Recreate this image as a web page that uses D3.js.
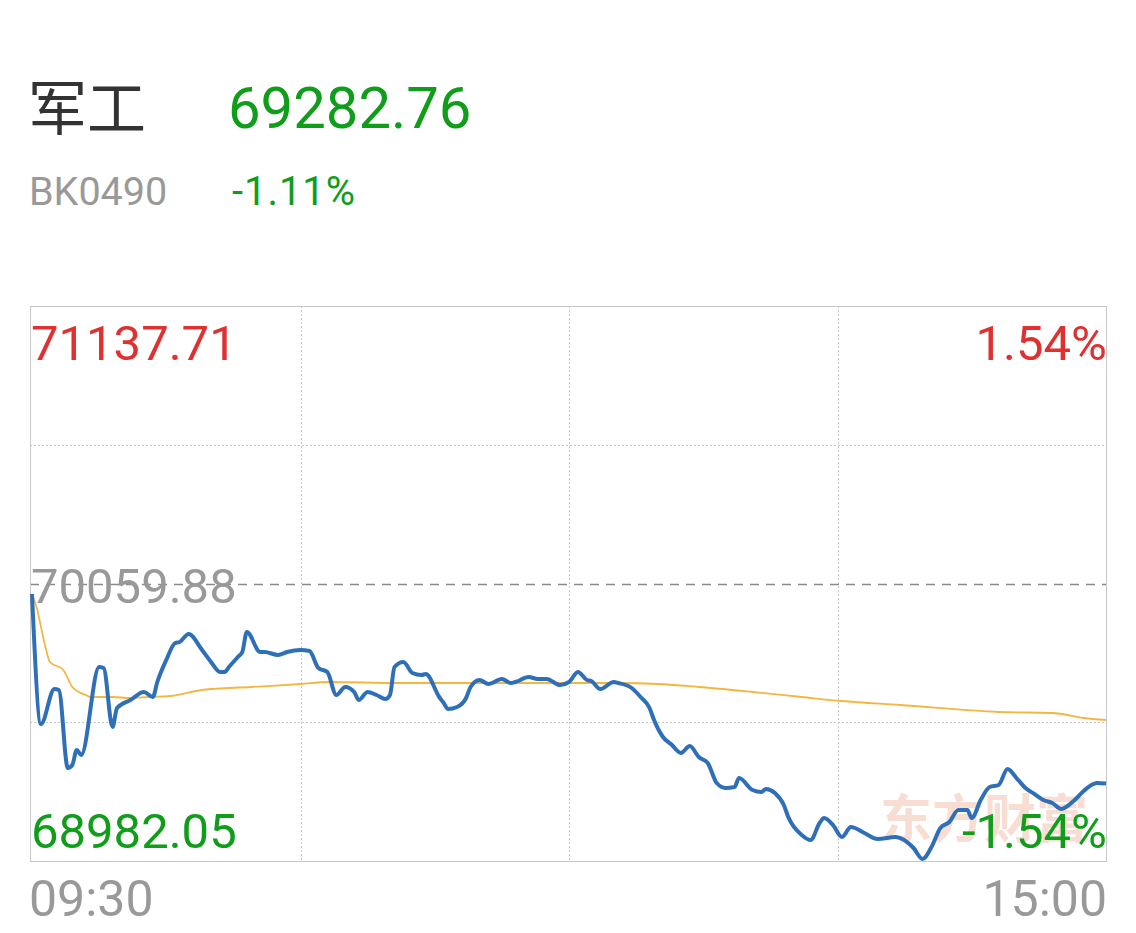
<!DOCTYPE html>
<html><head><meta charset="utf-8">
<script src="https://cdn.jsdelivr.net/npm/d3@7"></script>
<style>
html,body{margin:0;padding:0;background:#fff;}
svg{display:block;}
text{font-family:Roboto,"Noto Sans",sans-serif;}
</style></head>
<body>
<svg id="c" width="1136" height="933"></svg>
<script>
// ---- data ----
const title = "军工";
const code = "BK0490";
const lastPrice = "69282.76";
const lastChange = "-1.11%";
const prevClose = 70059.88;
const yDomain = [68982.05, 71137.71];
const yLabels = ["71137.71", "70059.88", "68982.05"];
const pctLabels = ["1.54%", "-1.54%"];
const timeLabels = ["09:30", "15:00"];
const totalMinutes = 240;

const priceMinutes = [0,2,5,6,8,9,10,11,15,16,18,19,22,25,27,28,30,32,33,35,38,40,42,43,44,46,47,48,51,52,55,57,60,62,64,66,68,70,72,73,75,77,79,80,81,83,85,87,88,91,92,93,95,97,98,100,102,105,107,108,111,113,115,118,120,122,124,125,127,130,131,134,136,138,139,141,143,145,147,149,151,153,155,157,158,161,163,164,166,168,169,172,174,176,177,179,181,183,186,189,193,197,199,201,203,205,207,209,210,212,214,216,218,220,222,224,226,228,230,233,235,238,240];
const priceValues = [70019.1,69514.2,69650.1,69646.2,69343.3,69354.9,69413.2,69393.8,69735.6,69731.7,69502.5,69576.3,69607.4,69638.5,69619.1,69677.3,69762.8,69828.8,69832.7,69863.7,69801.6,69755.0,69716.2,69716.2,69735.6,69774.4,69793.8,69871.5,69793.8,69793.8,69782.2,69793.8,69801.6,69797.7,69731.7,69716.2,69626.8,69657.9,69638.5,69607.4,69638.5,69626.8,69611.3,69626.8,69735.6,69755.0,69712.3,69704.5,69708.4,69619.1,69595.7,69572.4,69580.2,69615.2,69657.9,69685.1,69669.5,69688.9,69673.4,69677.3,69696.7,69688.9,69688.9,69665.6,69677.3,69716.2,69685.1,69681.2,69650.1,69677.3,69673.4,69654.0,69619.1,69576.3,69529.7,69463.7,69432.6,69401.5,69428.7,69386.0,69362.7,69285.0,69265.6,69269.5,69304.4,69257.8,69250.0,69261.7,69246.1,69199.5,69152.9,69083.0,69063.6,69129.6,69149.0,69121.8,69075.2,69114.1,69090.8,69067.5,69075.2,69032.5,68989.8,69036.4,69110.2,69133.5,69180.1,69180.1,69149.0,69219.0,69269.5,69277.3,69339.4,69304.4,69265.6,69242.3,69219.0,69207.3,69184.0,69219.0,69254.0,69285.0,69282.76];

const avgMinutes = [0,1,3,4,7,9,12,13,18,22,26,31,38,49,60,66,82,109,131,140,149,161,172,181,194,216,228,235,240];
const avgValues = [70019.1,69968.9,69813.3,69755.0,69723.9,69657.9,69626.8,69619.1,69619.1,69615.2,69619.1,69623.0,69646.2,69657.9,69669.5,69677.3,69673.4,69673.4,69673.4,69669.5,69657.9,69638.5,69619.1,69603.5,69588.0,69560.8,69556.9,69537.5,69529.7];

// ---- drawing ----
const svg = d3.select("#c");
const L = 30, R = 1106, T = 306, B = 861;
const x = d3.scaleLinear().domain([0, totalMinutes]).range([32, R]);
const y = d3.scaleLinear().domain(yDomain).range([B, T]);

const green = "#0f9d1a", red = "#e03131", gray = "#999999";

// header
svg.append("text").attr("x", 28).attr("y", 130).text(title)
  .style("font-family", '"Noto Sans CJK SC",sans-serif').style("font-size", "59px").attr("fill", "#333");
svg.append("text").attr("x", 228).attr("y", 128).text(lastPrice)
  .style("font-size", "58px").attr("fill", green);
svg.append("text").attr("x", 29).attr("y", 205).text(code)
  .style("font-size", "39.5px").attr("fill", gray);
svg.append("text").attr("x", 232).attr("y", 205).text(lastChange)
  .style("font-size", "40px").attr("fill", green).attr("textLength", 123);

// watermark
svg.append("text").attr("x", 1088).attr("y", 838).attr("text-anchor", "end").text("东方财富")
  .style("font-family", '"Noto Sans CJK SC",sans-serif').style("font-size", "52px")
  .style("font-weight", "bold").attr("fill", "#f6d5c8").attr("opacity", 0.8);

// grid
const g = svg.append("g");
[60, 120, 180].forEach(m => {
  g.append("line").attr("x1", Math.round(x(m)) + 0.5).attr("x2", Math.round(x(m)) + 0.5)
    .attr("y1", T).attr("y2", B).attr("stroke", "#c8c8c8").attr("stroke-dasharray", "2,2");
});
const q1 = yDomain[0] + (yDomain[1] - yDomain[0]) * 0.75;
const q3 = yDomain[0] + (yDomain[1] - yDomain[0]) * 0.25;
[q1, q3].forEach(v => {
  g.append("line").attr("x1", L).attr("x2", R).attr("y1", Math.round(y(v)) + 0.5).attr("y2", Math.round(y(v)) + 0.5)
    .attr("stroke", "#c8c8c8").attr("stroke-dasharray", "2,2");
});
g.append("line").attr("x1", L).attr("x2", R).attr("y1", Math.round(y(prevClose)) + 0.5).attr("y2", Math.round(y(prevClose)) + 0.5)
  .attr("stroke", "#8a8a8a").attr("stroke-width", 1.5).attr("stroke-dasharray", "9,7");
g.append("rect").attr("x", L + 0.5).attr("y", T + 0.5).attr("width", R - L).attr("height", B - T)
  .attr("fill", "none").attr("stroke", "#c8c8c8").attr("stroke-width", 1);

// lines
const avgLine = d3.line().x((d, i) => x(avgMinutes[i])).y((d, i) => y(avgValues[i])).curve(d3.curveMonotoneX);
svg.append("path").datum(avgValues).attr("d", avgLine).attr("fill", "none")
  .attr("stroke", "#f2b73f").attr("stroke-width", 1.8);
const priceLine = d3.line().x((d, i) => x(priceMinutes[i])).y((d, i) => y(priceValues[i])).curve(d3.curveMonotoneX);
svg.append("path").datum(priceValues).attr("d", priceLine).attr("fill", "none")
  .attr("stroke", "#2f6fb8").attr("stroke-width", 4).attr("stroke-linejoin", "round");

// axis labels
const fs = "49px";
svg.append("text").attr("x", 31).attr("y", 360).text(yLabels[0]).style("font-size", fs).attr("fill", red);
svg.append("text").attr("x", 31).attr("y", 603).text(yLabels[1]).style("font-size", fs).attr("fill", gray);
svg.append("text").attr("x", 31).attr("y", 848).text(yLabels[2]).style("font-size", fs).attr("fill", green);
svg.append("text").attr("x", 1107).attr("y", 360).attr("text-anchor", "end").text(pctLabels[0]).style("font-size", fs).attr("fill", red);
svg.append("text").attr("x", 1107).attr("y", 848).attr("text-anchor", "end").text(pctLabels[1]).style("font-size", fs).attr("fill", green);
svg.append("text").attr("x", 29).attr("y", 916).text(timeLabels[0]).style("font-size", "50px").attr("fill", gray);
svg.append("text").attr("x", 1107).attr("y", 916).attr("text-anchor", "end").text(timeLabels[1]).style("font-size", "50px").attr("fill", gray);
</script>
</body></html>
